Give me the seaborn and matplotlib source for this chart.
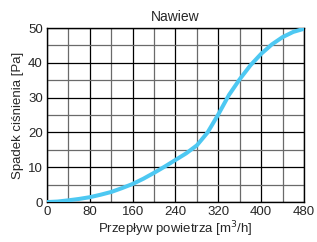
import numpy as np
import pandas as pd
import seaborn as sns
import matplotlib.pyplot as plt
from matplotlib.ticker import MultipleLocator

# dane
przeplyw = [0, 20, 40, 60, 80, 100, 120, 140, 160, 180, 200, 220, 240, 260, 280,
            300, 320, 340, 360, 380, 400, 420, 440, 460, 480]
spadek = [0, 0.15, 0.5, 0.9, 1.4, 2.1, 2.9, 4.0, 5.2, 6.7, 8.4, 10.2, 12.1, 14.0, 16.3,
          20.0, 25.2, 30.8, 35.3, 39.3, 42.6, 45.3, 47.4, 48.9, 49.8]

df = pd.DataFrame({'Przeplyw': przeplyw, 'Spadek': spadek})

sns.set_style('white')
plt.rcParams['font.family'] = ['Liberation Sans', 'DejaVu Sans']

fig = plt.figure(figsize=(3.17, 2.42), dpi=100)
ax = fig.add_axes([0.148, 0.165, 0.811, 0.719])

sns.lineplot(data=df, x='Przeplyw', y='Spadek', color='#4DC8F2', linewidth=2.9,
             ax=ax, zorder=5)

ax.set_xlim(0, 480)
ax.set_ylim(0, 50)
ax.xaxis.set_major_locator(MultipleLocator(80))
ax.xaxis.set_minor_locator(MultipleLocator(40))
ax.yaxis.set_major_locator(MultipleLocator(10))
ax.yaxis.set_minor_locator(MultipleLocator(5))
ax.grid(which='major', color='black', linewidth=0.9)
ax.grid(which='minor', color='#6a6a6a', linewidth=0.9)
ax.tick_params(which='both', length=0, labelsize=9.5, pad=3)
for s in ax.spines.values():
    s.set_color('black')
    s.set_linewidth(1)

ax.set_title('Nawiew', fontsize=10, pad=5)
ax.set_xlabel('Przepływ powietrza [m$^3$/h]', fontsize=9.5, labelpad=1)
ax.set_ylabel('Spadek ciśnienia [Pa]', fontsize=9.5, labelpad=3)

fig.savefig('out.png', dpi=100)
